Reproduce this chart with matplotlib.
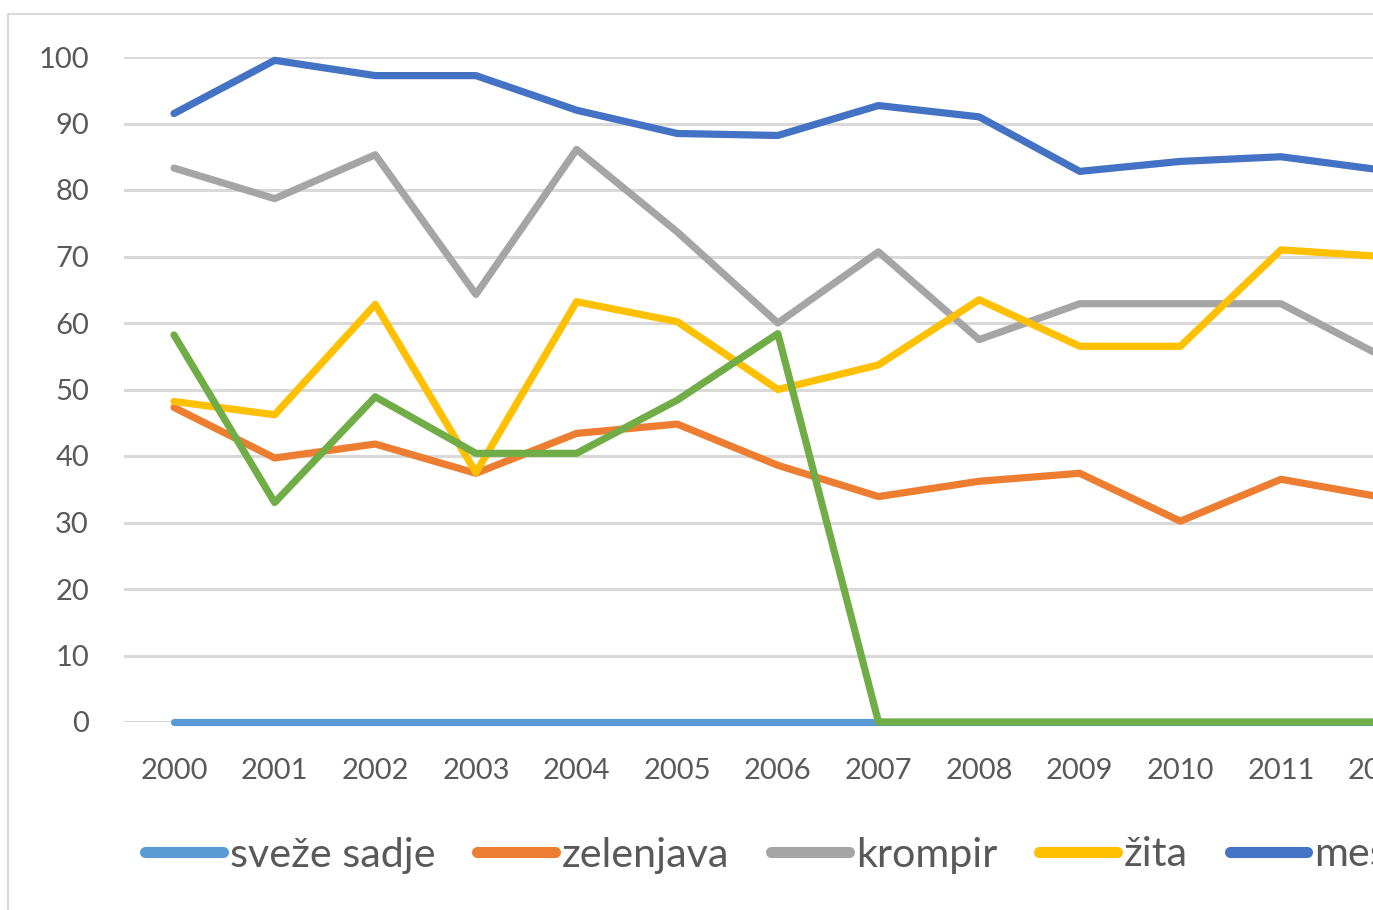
import numpy as np
import matplotlib.pyplot as plt
from matplotlib.lines import Line2D
from matplotlib.patches import Rectangle

# data (chart is cropped on the right)
years = [2000, 2001, 2002, 2003, 2004, 2005, 2006, 2007, 2008, 2009, 2010, 2011, 2012]
svez_sadje = [0, 0, 0, 0, 0, 0, 0, 0, 0, 0, 0, 0, 0]
zelenjava = [47.3, 39.7, 41.8, 37.4, 43.4, 44.8, 38.6, 33.9, 36.2, 37.4, 30.2, 36.5, 33.8]
krompir = [83.3, 78.7, 85.3, 64.3, 86.1, 73.7, 60.0, 70.7, 57.5, 62.9, 62.9, 62.9, 55.0]
zita = [48.2, 46.2, 62.8, 37.5, 63.2, 60.2, 50.0, 53.7, 63.5, 56.5, 56.5, 71.0, 70.0]
meso = [91.5, 99.5, 97.2, 97.2, 92.0, 88.5, 88.2, 92.7, 91.0, 82.8, 84.3, 85.0, 83.0]
mleko = [58.2, 33.0, 48.9, 40.4, 40.4, 48.4, 58.4, 0, 0, 0, 0, 0, 0]

names = ["sveže sadje", "zelenjava", "krompir", "žita", "meso", "mleko"]
series = [svez_sadje, zelenjava, krompir, zita, meso, mleko]
colors = ["#5B9BD5", "#ED7D31", "#A5A5A5", "#FFC000", "#4472C4", "#70AD47"]

plt.rcParams['font.family'] = ['Lato', 'DejaVu Sans']

W, H = 1373, 910
fig = plt.figure(figsize=(W / 100, H / 100), dpi=100)

# chart area border (cut off on the right and bottom)
fig.patches.append(Rectangle((8 / W, -0.1), 1.5, (H - 14) / H + 0.1,
                             transform=fig.transFigure, fill=False,
                             edgecolor="#D9D9D9", lw=1.5))

step = 100.64  # px per category
n_cat = 15
left = (174 - step / 2) / W
ax = fig.add_axes([left, (H - 722) / H, n_cat * step / W, 665 / H])

x = np.arange(len(years))
for vals, c, name in zip(series, colors, names):
    ax.plot(x, vals, color=c, lw=5.2, label=name, clip_on=False,
            solid_joinstyle='round', solid_capstyle='round')

ax.set_xlim(-0.5, n_cat - 0.5)
ax.set_ylim(0, 100)
ax.set_yticks(np.arange(0, 101, 10))
ax.set_xticks(x)
ax.set_xticklabels([str(y) for y in years])
ax.grid(axis='y', color="#D9D9D9", lw=2.2)
ax.set_axisbelow(True)
for s in ax.spines.values():
    s.set_visible(False)
ax.tick_params(length=0, colors="#595959", labelsize=21)
ax.tick_params(axis='y', pad=25)
ax.tick_params(axis='x', pad=26)

handles = [Line2D([], [], color=c, lw=8, solid_capstyle='round') for c in colors]
fig.legend(handles, names, loc='center left', bbox_to_anchor=(145 / W, 1 - 855 / H),
           ncol=6, frameon=False, fontsize=29.7, handlelength=1.88,
           handletextpad=0.17, columnspacing=1.02, borderaxespad=0, borderpad=0,
           labelcolor="#595959")

fig.savefig("out.png", dpi=100)
